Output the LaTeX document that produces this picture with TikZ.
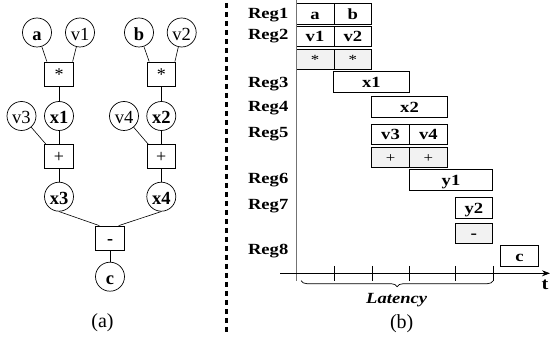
\documentclass[tikz,border=0pt]{standalone}
\usepackage{fontspec}
\setmainfont{Liberation Serif}
\newfontfamily\rf[FakeStretch=1.2]{Liberation Serif}
\usetikzlibrary{decorations.pathreplacing,arrows.meta}
\begin{document}
\begin{tikzpicture}[x=1pt,y=-1pt,
 vtx/.style={circle,draw,line width=0.7pt,minimum size=29pt,inner sep=0pt,text height=16pt,text depth=0pt,font=\fontsize{18.5}{18.5}\selectfont},
 op/.style={rectangle,draw,line width=0.7pt,minimum width=28.5pt,minimum height=24pt,inner sep=0pt,text height=13pt,text depth=0pt,font=\fontsize{18}{18}\selectfont},
 edge/.style={line width=0.6pt},
 rb/.style={rectangle,draw,line width=0.7pt,minimum height=20.5pt,inner sep=0pt,text height=11pt,text depth=0pt,font=\rf\bfseries\fontsize{15.5}{15.5}\selectfont},
 gb/.style={rb,fill=gray!10,font=\rf\fontsize{14}{14}\selectfont},
 reglab/.style={anchor=base east,inner sep=0pt,font=\rf\bfseries\fontsize{15.5}{15.5}\selectfont},
 captxt/.style={font=\fontsize{20}{20}\selectfont,inner sep=0pt},
]
\useasboundingbox (0,0) rectangle (550,339);
% ---------- (a) data flow graph ----------
\node[vtx] (a) at (37,32.5) {\textbf{a}};
\node[vtx] (v1) at (80,32.5) {v1};
\node[op] (m1) at (59,74) {*};
\node[vtx] (x1) at (59,116) {\textbf{x1}};
\node[vtx] (v3) at (21.5,116) {v3};
\node[op] (p1) at (59,156.5) {+};
\node[vtx] (x3) at (59,196.7) {\textbf{x3}};
\node[vtx] (b) at (139,32.5) {\textbf{b}};
\node[vtx] (v2) at (181.7,32.5) {v2};
\node[op] (m2) at (161.3,74) {*};
\node[vtx] (x2) at (161.3,116) {\textbf{x2}};
\node[vtx] (v4) at (124,116) {v4};
\node[op] (p2) at (161.3,156.5) {+};
\node[vtx] (x4) at (161.3,196.7) {\textbf{x4}};
\node[op] (mi) at (110,238) {\textbf{-}};
\node[vtx] (c) at (110,276.7) {\textbf{c}};
\node[captxt] (capa) at (102.5,323) {(a)};
\draw[edge] (a) -- ([xshift=2.5pt]m1.north west);
\draw[edge] (v1) -- ([xshift=-1pt]m1.north east);
\draw[edge] (m1) -- (x1);
\draw[edge] (x1) -- (p1);
\draw[edge] (v3) -- ([xshift=1.5pt]p1.north west);
\draw[edge] (p1) -- (x3);
\draw[edge] (b) -- ([xshift=2.5pt]m2.north west);
\draw[edge] (v2) -- ([xshift=-1pt]m2.north east);
\draw[edge] (m2) -- (x2);
\draw[edge] (x2) -- (p2);
\draw[edge] (v4) -- ([xshift=1.5pt]p2.north west);
\draw[edge] (p2) -- (x4);
\draw[edge] (x3.south) -- ([xshift=4pt]mi.north west);
\draw[edge] (x4.south) -- ([xshift=-6pt]mi.north east);
\draw[edge] (mi) -- (c);
% ---------- separator ----------
\coordinate (s1) at (226,3);
\coordinate (s2) at (226,333);
\draw[line width=3pt, dash pattern=on 5.5pt off 3.5pt] (s1) -- (s2);
% ---------- (b) schedule ----------
\node[reglab] (r1) at (288.5,18.5) {Reg1};
\node[reglab] (r2) at (288.5,39.2) {Reg2};
\node[reglab] (r3) at (288.5,87.5) {Reg3};
\node[reglab] (r4) at (288.5,112) {Reg4};
\node[reglab] (r5) at (288.5,137.5) {Reg5};
\node[reglab] (r6) at (288.5,184) {Reg6};
\node[reglab] (r7) at (288.5,210) {Reg7};
\node[reglab] (r8) at (288.5,255) {Reg8};
\node[rb,minimum width=38pt] (ba) at (315,13.7) {a};
\node[rb,minimum width=37.7pt] (bb) at (352.8,13.7) {b};
\node[rb,minimum width=38pt] (bv1) at (315,36.3) {v1};
\node[rb,minimum width=37.7pt] (bv2) at (352.8,36.3) {v2};
\node[gb,minimum width=38pt] (bm1) at (315,59.2) {*};
\node[gb,minimum width=37.7pt] (bm2) at (352.8,59.2) {*};
\node[rb,minimum width=76pt] (bx1) at (371.3,81.7) {x1};
\node[rb,minimum width=75.6pt] (bx2) at (409.5,107) {x2};
\node[rb,minimum width=37.6pt] (bv3) at (390.5,134.3) {v3};
\node[rb,minimum width=38pt] (bv4) at (428.3,134.3) {v4};
\node[gb,minimum width=37.6pt] (bp1) at (390.5,157.3) {+};
\node[gb,minimum width=38pt] (bp2) at (428.3,157.3) {+};
\node[rb,minimum width=83.4pt] (by1) at (451,180) {y1};
\node[rb,minimum width=37.7pt] (by2) at (473.8,207.7) {y2};
\node[gb,minimum width=37.7pt,font=\rf\bfseries\fontsize{16}{16}\selectfont] (bmi) at (473.8,233.3) {-};
\node[rb,minimum width=37.6pt] (bc) at (519.5,256) {c};
% axes
\coordinate (ytop) at (296,0);
\coordinate (ybot) at (296,280.7);
\coordinate (xl) at (280,273.3);
\coordinate (xr) at (550,273.3);
\draw[black!55, line width=1pt] (ytop) -- (ybot);
\draw[line width=0.8pt, -{Stealth[length=8pt,width=6pt]}] (xl) -- (xr);
\foreach \x in {334,372.3,409.3,455,493.3} \draw[line width=0.8pt] (\x,266) -- (\x,280.7);
\coordinate (br1) at (301,280.7);
\coordinate (br2) at (493.3,280.7);
\draw[line width=0.7pt, decorate, decoration={brace,mirror,amplitude=6pt}] (br1) -- (br2);
\node[inner sep=0pt,font=\rf\bfseries\fontsize{17}{17}\selectfont] (t) at (545,285) {t};
\node[inner sep=0pt,font=\rf\bfseries\itshape\fontsize{15.5}{15.5}\selectfont] (lat) at (396.7,300) {Latency};
\node[captxt] (capb) at (401.7,323.3) {(b)};
\end{tikzpicture}
\end{document}
